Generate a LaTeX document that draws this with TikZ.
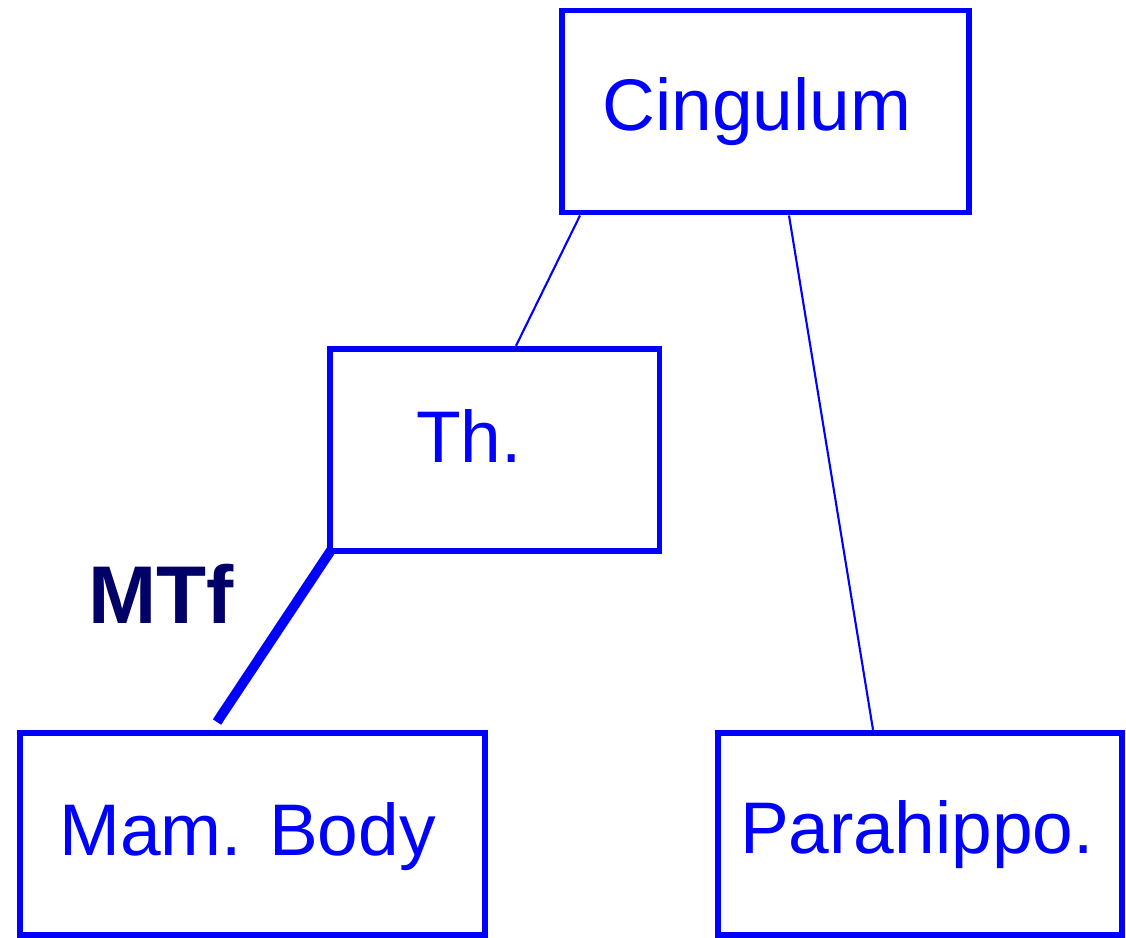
\documentclass[tikz,border=0pt]{standalone}
\usepackage{fontspec}
\setmainfont{Liberation Sans}
\definecolor{navy}{RGB}{0,0,102}
\begin{document}
\begin{tikzpicture}[
  box/.style={draw=blue,line width=1.7pt,rectangle,inner sep=0pt,minimum height=2.02cm},
  lbl/.style={text=blue,anchor=base,font=\fontsize{20.8}{25}\selectfont}]
\useasboundingbox (0,0) rectangle (11.26,9.37);
\draw 	(7.655,8.255) node[box,minimum width=4.07cm](cing){}   (4.9475,4.8725) node[box,minimum width=3.295cm](th){}
  		(2.525,1.0325) node[box,minimum width=4.65cm](mam){}  (9.20,1.0325) node[box,minimum width=4.04cm](para){};
\draw (7.57,8.07) node[lbl](cingtxt){Cingulum}
      (4.69,4.75) node[lbl](thtxt){Th.}
      (2.475,0.82) node[lbl](mamtxt){Mam. Body}
      (9.17,0.84) node[lbl](paratxt){Parahippo.};
\coordinate (mtfend) at (2.17,2.15);
\path[-]
    ([xshift=2.1mm]cing.south west) edge[blue,line width=0.6pt] node {} ([xshift=18.9mm]th.north west)
    ([xshift=23mm]cing.south west) edge[blue,line width=0.6pt] node {} ([xshift=15.8mm]para.north west)
    ([shift={(0.5mm,0.5mm)}]th.south west) edge[blue,line width=2.8pt] node {} (mtfend);
\draw (1.615,3.14) node[anchor=base,text=navy,font=\bfseries\fontsize{23.3}{28}\selectfont](mtf){MTf};
\end{tikzpicture}
\end{document}
